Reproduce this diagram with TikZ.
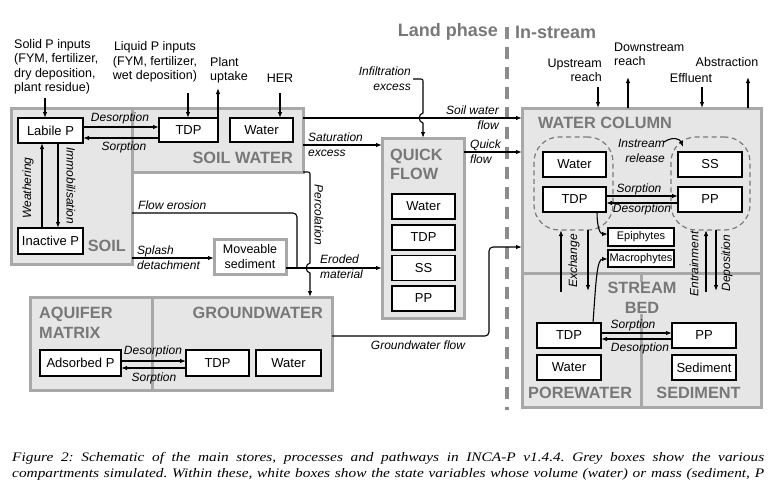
\documentclass[tikz,border=0pt]{standalone}
\usepackage{fontspec}
\setmainfont{Liberation Sans}
\newfontfamily\capfont[FakeStretch=1.18]{Liberation Serif}
\usetikzlibrary{arrows.meta}
\definecolor{boxgray}{HTML}{E6E6E6}
\definecolor{bordergray}{HTML}{A8A8A8}
\definecolor{labgray}{HTML}{787878}
\definecolor{divgray}{HTML}{8C8C8C}
\definecolor{dashgray}{HTML}{7A7A7A}
\frenchspacing
\begin{document}
\begin{tikzpicture}[x=1pt,y=-1pt,
  gb/.style={draw=bordergray, line width=3pt, fill=boxgray, outer sep=0pt, inner sep=0pt, anchor=north west},
  wb/.style={draw=black, line width=1.1pt, fill=white, outer sep=0pt, inner sep=0pt, anchor=north west, font=\fontsize{13}{15}\selectfont},
  sb/.style={wb, font=\fontsize{11}{13}\selectfont},
  arr/.style={-{Latex[length=6pt,width=4.5pt]}, line width=1.1pt},
  ln/.style={line width=1.1pt},
  it/.style={inner sep=0pt, font=\itshape\fontsize{12}{15}\selectfont},
  tx/.style={inner sep=0pt, font=\fontsize{12.5}{14.5}\selectfont},
  lab/.style={inner sep=0pt, text=labgray, font=\bfseries\fontsize{16.3}{19.5}\selectfont},
  region/.style={draw=dashgray, dash pattern=on 5pt off 3.5pt, line width=1.2pt, rounded corners=25pt, outer sep=0pt, inner sep=0pt, anchor=north west},
  captxt/.style={inner sep=0pt, anchor=base west, font=\capfont\itshape\fontsize{13}{15}\selectfont}
]
\useasboundingbox (0,0) rectangle (776,498);

% grey compartments
\node[gb, minimum width=121pt, minimum height=156pt] (soil) at (11,108) {};
\node[gb, minimum width=171pt, minimum height=64pt] (soilwater) at (132,108) {};
\node[gb, minimum width=82pt, minimum height=180pt] (quick) at (382,138) {};
\node[gb, minimum width=122pt, minimum height=93pt] (aquifer) at (30,297) {};
\node[gb, minimum width=180pt, minimum height=93pt] (gw) at (152,297) {};
\node[gb, minimum width=239pt, minimum height=165pt] (wc) at (522,108) {};
\node[gb, minimum width=119pt, minimum height=134pt] (pore) at (522,273) {};
\node[gb, minimum width=120pt, minimum height=134pt] (sedi) at (641,273) {};
\node[gb, fill=white, minimum width=72pt, minimum height=35pt, align=center, font=\fontsize{12.5}{15}\selectfont] (move) at (214,239) {Moveable\\sediment};

% dashed regions
\node[region, minimum width=79pt, minimum height=93pt] (dl) at (534,137) {};
\node[region, minimum width=79pt, minimum height=93pt] (dr) at (671,137) {};

% white state boxes
\node[wb, minimum width=65pt, minimum height=25pt] (labile) at (18,118) {Labile P};
\node[wb, minimum width=65pt, minimum height=26pt] (inactive) at (18,228) {Inactive P};
\node[wb, minimum width=59pt, minimum height=24pt] (swtdp) at (159,118) {TDP};
\node[wb, minimum width=63pt, minimum height=24pt] (swwater) at (230,118) {Water};
\node[wb, minimum width=63pt, minimum height=25pt] (qwater) at (392,194) {Water};
\node[wb, minimum width=63pt, minimum height=25pt] (qtdp) at (392,225) {TDP};
\node[wb, minimum width=63pt, minimum height=25pt] (qss) at (392,255.5) {SS};
\node[wb, minimum width=63pt, minimum height=25pt] (qpp) at (392,286) {PP};
\node[wb, minimum width=81pt, minimum height=26pt] (adsorbed) at (40,350) {Adsorbed P};
\node[wb, minimum width=63pt, minimum height=26pt] (gwtdp) at (186,350) {TDP};
\node[wb, minimum width=65pt, minimum height=26pt] (gwwater) at (256,350) {Water};
\node[wb, minimum width=63pt, minimum height=25pt] (wcwater) at (543,152) {Water};
\node[wb, minimum width=63pt, minimum height=25pt] (wctdp) at (543,187) {TDP};
\node[wb, minimum width=64pt, minimum height=25pt] (wcss) at (678,152) {SS};
\node[wb, minimum width=64pt, minimum height=25pt] (wcpp) at (678,187) {PP};
\node[sb, minimum width=66pt, minimum height=18pt] (epi) at (608,228) {Epiphytes};
\node[sb, minimum width=66pt, minimum height=17pt] (macro) at (608,250) {Macrophytes};
\node[wb, minimum width=64pt, minimum height=25pt] (sbtdp) at (537,323) {TDP};
\node[wb, minimum width=64pt, minimum height=25pt] (sbwater) at (537,355) {Water};
\node[wb, minimum width=64pt, minimum height=25pt] (sbpp) at (672,323) {PP};
\node[wb, minimum width=64pt, minimum height=25pt] (sbsed) at (672,355) {Sediment};

% compartment labels
\node[lab, anchor=east] (soillab) at (126,246) {SOIL};
\node[lab, anchor=east] (swlab) at (293,158) {SOIL WATER};
\node[lab, anchor=west, align=left] (qlab) at (390,164.5) {QUICK\\FLOW};
\node[lab, anchor=west, align=left] (aqlab) at (39,323) {AQUIFER\\MATRIX};
\node[lab, anchor=east] (gwlab) at (323,313) {GROUNDWATER};
\node[lab, anchor=west] (wclab) at (538,123) {WATER COLUMN};
\node[lab, align=center, fill=boxgray, inner sep=1pt] (sblab) at (642,298) {STREAM\\BED};
\node[lab, anchor=west] (porelab) at (528,393) {POREWATER};
\node[lab] (sedlab) at (698.5,393) {SEDIMENT};
\node[lab, anchor=east, font=\bfseries\fontsize{18}{20}\selectfont] (landlab) at (498,32) {Land phase};
\node[lab, anchor=west, font=\bfseries\fontsize{18}{20}\selectfont] (streamlab) at (515,32) {In-stream};

% divider
\coordinate (divtop) at (507,27);
\coordinate (divbot) at (507,410);
\draw[divgray, line width=4.5pt, dash pattern=on 12pt off 8pt] (divtop) -- (divbot);

% outside input / output texts
\node[tx, anchor=west, align=left] (solid) at (14,67) {Solid P inputs\\(FYM, fertilizer,\\dry deposition,\\plant residue)};
\node[tx, align=center] (liquid) at (155,62) {Liquid P inputs\\(FYM, fertilizer,\\wet deposition)};
\node[tx, anchor=west, align=left] (plant) at (210,70.5) {Plant\\uptake};
\node[tx] (her) at (280,78) {HER};
\node[tx, anchor=east, align=right] (upstream) at (602,70.5) {Upstream\\reach};
\node[tx, anchor=west, align=left] (downstream) at (614,54.5) {Downstream\\reach};
\node[tx] (effluent) at (691,78) {Effluent};
\node[tx] (abstraction) at (727,62) {Abstraction};

\coordinate (solidin) at (45,98);
\coordinate (liqin) at (188,93);
\coordinate (uptake) at (218,88);
\coordinate (herin) at (280,93);
\coordinate (upin) at (598,87);
\coordinate (downout) at (628,77);
\coordinate (effin) at (702,87);
\coordinate (absout) at (748,77);
\draw[arr] (solidin) -- (solidin |- labile.north);
\draw[arr] (liqin) -- (liqin |- swtdp.north);
\draw[arr] (swtdp.north east) -- (uptake);
\draw[arr] (herin) -- (herin |- swwater.north);
\draw[arr] (upin) -- (upin |- wc.north);
\draw[arr] (downout |- wc.north) -- (downout);
\draw[arr] (effin) -- (effin |- wc.north);
\draw[arr] (absout |- wc.north) -- (absout);

% soil processes
\draw[arr] (labile.east |- 0,127) -- (swtdp.west |- 0,127);
\draw[arr] (swtdp.west |- 0,138) -- (labile.east |- 0,138);
\node[it] (des1) at (120,118) {Desorption};
\node[it] (sor1) at (124,147) {Sorption};
\draw[arr] (inactive.north -| 42,0) -- (labile.south -| 42,0);
\draw[arr] (labile.south -| 58,0) -- (inactive.north -| 58,0);
\node[it, rotate=90] (weath) at (28,188) {Weathering};
\node[it, rotate=-90] (immob) at (71,186) {Immobilisation};

% land pathways
\coordinate (infl) at (413,79);
\node[it, anchor=east, align=right] (infltxt) at (411,78.5) {Infiltration\\excess};
\draw[arr] (soilwater.east |- 0,118) -- (wc.west |- 0,118);
\node[it, anchor=east, align=right] (swflow) at (499,117.5) {Soil water\\flow};
\draw[arr] (infl) -- (419,79) .. controls (423,79) .. (423,83) -- (423,113)
   .. controls (418,114) and (418,122) .. (423,123) -- (quick.north);
\draw[arr] (soilwater.east |- 0,145) -- (quick.west |- 0,145);
\node[it, anchor=west, align=left] (sat) at (308,144.5) {Saturation\\excess};
\draw[arr] (quick.east |- 0,152) -- (wc.west |- 0,152);
\node[it, anchor=west, align=left] (qf) at (470,151.5) {Quick\\flow};
\draw[ln, rounded corners=4pt] (soil.east |- 0,213) -- (297,213) -- (297,268);
\node[it, anchor=west] (ferosion) at (138,205) {Flow erosion};
\draw[arr] (soil.east |- 0,258) -- (move.west |- 0,258);
\node[it, anchor=west, align=left] (splash) at (137,257.5) {Splash\\detachment};
\draw[arr] (move.east |- 0,268) -- (quick.west |- 0,268);
\node[it, anchor=west, align=left] (eroded) at (320,267) {Eroded\\material};
\draw[arr] (soilwater.south east) -- (306,172) .. controls (310,172) .. (310,176) -- (310,263)
   .. controls (305,264) and (305,272) .. (310,273) -- (gw.north -| 310,0);
\node[it, rotate=-90] (perc) at (319,215) {Percolation};
\draw[arr, rounded corners=4pt] (gw.east |- 0,336) -- (489,336) -- (489,247) -- (wc.west |- 0,247);
\node[it] (gwflow) at (418,345) {Groundwater flow};

% aquifer
\draw[arr] (adsorbed.east |- 0,361) -- (gwtdp.west |- 0,361);
\draw[arr] (gwtdp.west |- 0,368) -- (adsorbed.east |- 0,368);
\node[it] (des2) at (153,351) {Desorption};
\node[it] (sor2) at (154,378) {Sorption};

% in-stream
\coordinate (relst) at (664,142);
\node[it, anchor=east, align=right] (instream) at (665,150.5) {Instream\\release};
\draw[arr] (relst) .. controls (673,136) and (680,139) .. (683,147);
\draw[arr] (wctdp.east |- 0,196) -- (wcpp.west |- 0,196);
\draw[arr] (wcpp.west |- 0,203) -- (wctdp.east |- 0,203);
\node[it] (sor3) at (639,189) {Sorption};
\node[it] (des3) at (642,209) {Desorption};
\draw[arr] (wctdp.south -| 597,0) .. controls (597,227) and (600,234) .. (epi.west |- 0,234);
\draw[arr] (sbtdp.north -| 593,0) .. controls (596,280) and (597,259) .. (macro.west |- 0,259);
\coordinate (exA) at (561,292);
\coordinate (exB) at (588,291);
\coordinate (enA) at (706,292);
\coordinate (deB) at (716,291);
\draw[arr] (exA) -- (exA |- dl.south);
\draw[arr] (dl.south -| exB) -- (exB);
\draw[arr] (enA) -- (enA |- dr.south);
\draw[arr] (dr.south -| deB) -- (deB);
\node[it, rotate=90] (exch) at (574,261) {Exchange};
\node[it, rotate=90] (entr) at (694,264) {Entrainment};
\node[it, rotate=90] (depo) at (727,263) {Deposition};
\draw[arr] (sbtdp.east |- 0,333) -- (sbpp.west |- 0,333);
\draw[arr] (sbpp.west |- 0,339) -- (sbtdp.east |- 0,339);
\node[it] (sor4) at (633,325) {Sorption};
\node[it] (des4) at (640,348) {Desorption};

% caption
\node[captxt] (cap1) at (12,461) {\makebox[752pt][s]{Figure 2: Schematic of the main stores, processes and pathways in INCA-P v1.4.4. Grey boxes show the various}};
\node[captxt] (cap2) at (12,477) {\makebox[752pt][s]{compartments simulated. Within these, white boxes show the state variables whose volume (water) or mass (sediment, P}};
\end{tikzpicture}
\end{document}
